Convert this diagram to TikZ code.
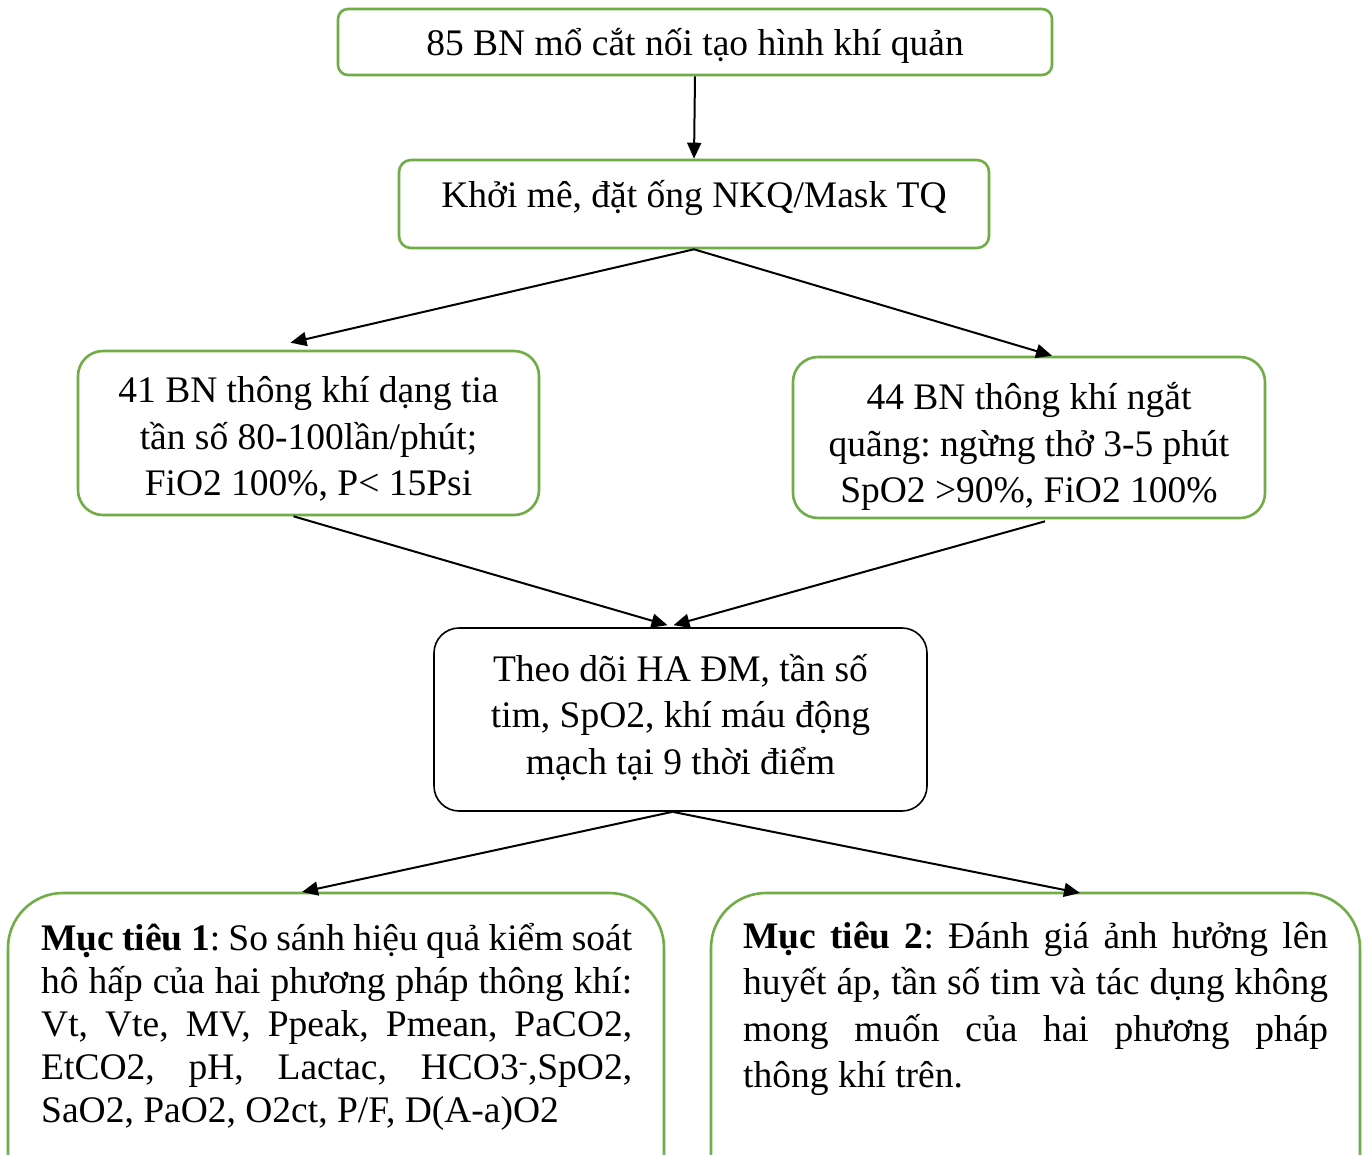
\documentclass[tikz,border=0pt]{standalone}
\usepackage{fontspec}
\setmainfont{Liberation Serif}
\usetikzlibrary{arrows.meta}
\definecolor{boxgreen}{HTML}{70AD47}
\tikzset{
  gbox/.style={draw=boxgreen, line width=2.6pt, inner sep=0pt, fill=white},
  kbox/.style={draw=black, line width=1.6pt, inner sep=0pt, fill=white},
  arr/.style={line width=2pt, -{Triangle[length=16pt,width=14pt]}},
  big/.style={font=\fontsize{37.5}{46.5}\selectfont, align=center, inner sep=0pt},
}
\begin{document}
\frenchspacing
\begin{tikzpicture}[x=1pt,y=-1pt]
\clip (0,0) rectangle (1367,1154);
\fill[white] (0,0) rectangle (1367,1154);
% boxes
\node[gbox, rounded corners=10pt, minimum width=714pt, minimum height=66pt] (b1) at (695,42) {};
\node[big] (b1t) at ([yshift=-4pt]b1.center) {85 BN mổ cắt nối tạo hình khí quản};
\node[gbox, rounded corners=12pt, minimum width=590pt, minimum height=88pt] (b2) at (694,204) {};
\node[big] (b2t) at ([yshift=6pt]b2.center) {Khởi mê, đặt ống NKQ/Mask TQ};
\node[gbox, rounded corners=25pt, minimum width=461pt, minimum height=164pt] (lb) at (308.5,433) {};
\node[big] (lbt) at ([yshift=-6pt]lb.center)
  {41 BN thông khí dạng tia\\tần số 80-100lần/phút;\\FiO2 100\%, P< 15Psi};
\node[gbox, rounded corners=25pt, minimum width=472pt, minimum height=161pt] (rb) at (1029,437.5) {};
\node[big] (rbt) at ([yshift=-9pt]rb.center)
  {44 BN thông khí ngắt\\quãng: ngừng thở 3-5 phút\\SpO2 >90\%, FiO2 100\%};
\node[kbox, rounded corners=25pt, minimum width=493pt, minimum height=183pt] (mb) at (680.5,719.5) {};
\node[big] (mbt) at ([yshift=2pt]mb.center)
  {Theo dõi HA ĐM, tần số\\tim, SpO2, khí máu động\\mạch tại 9 thời điểm};
% bottom boxes (cut off by the page edge)
\draw[draw=boxgreen, line width=2.6pt, rounded corners=55pt] (8,1240) rectangle (664,893);
\draw[draw=boxgreen, line width=2.6pt, rounded corners=55pt] (711,1240) rectangle (1360,893);
\coordinate (bl) at (336,893);
\coordinate (br) at (1035.5,893);
\node[anchor=north west, inner sep=0pt, text width=591pt, align=justify,
      font=\fontsize{37.5}{43}\selectfont] (t1) at (41,923)
  {\textbf{Mục tiêu 1}: So sánh hiệu quả kiểm soát\linebreak
   hô hấp của hai phương pháp thông khí:\linebreak
   Vt, Vte, MV, Ppeak, Pmean, PaCO2,\linebreak
   EtCO2, pH, Lactac, HCO3\textsuperscript{-},SpO2,\linebreak
   SaO2, PaO2, O2ct, P/F, D(A-a)O2};
\node[anchor=north west, inner sep=0pt, text width=585pt, align=justify,
      font=\fontsize{37.5}{46.3}\selectfont] (t2) at (743,922)
  {\textbf{Mục tiêu 2}: Đánh giá ảnh hưởng lên\linebreak
   huyết áp, tần số tim và tác dụng không\linebreak
   mong muốn của hai phương pháp\linebreak
   thông khí trên.};
% arrows
\draw[arr] (b1.south) -- (b2.north);
\draw[arr] (b2.south) -- ([shift={(-18pt,7pt)}]lb.north);
\draw[arr] (b2.south) -- ([shift={(23pt,0pt)}]rb.north);
\draw[arr] ([xshift=-15pt]lb.south) -- ([shift={(-13pt,2pt)}]mb.north);
\draw[arr] ([shift={(16pt,-2pt)}]rb.south) -- ([shift={(-7pt,2pt)}]mb.north);
\draw[arr] ([xshift=-8pt]mb.south) -- ([shift={(-34pt,1pt)}]bl);
\draw[arr] ([xshift=-8pt]mb.south) -- ([shift={(44.5pt,0pt)}]br);
\end{tikzpicture}
\end{document}
